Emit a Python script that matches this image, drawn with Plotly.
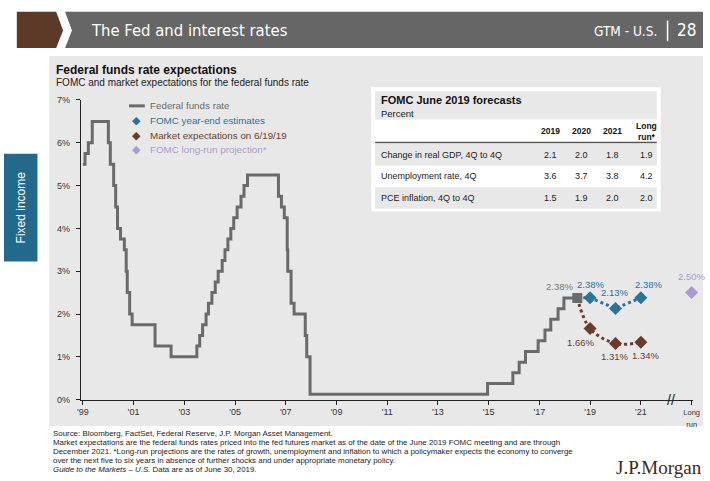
import plotly.graph_objects as go

W, H = 710, 481

# ---------------- data ----------------
ffr_dates = ["2000-01-01", "2000-02-02", "2000-03-21", "2000-05-16", "2001-01-03", "2001-01-31",
             "2001-03-20", "2001-04-18", "2001-05-15", "2001-06-27", "2001-08-21", "2001-09-17",
             "2001-10-02", "2001-11-06", "2001-12-11", "2002-11-06", "2003-06-25", "2004-06-30",
             "2004-08-10", "2004-09-21", "2004-11-10", "2004-12-14", "2005-02-02", "2005-03-22",
             "2005-05-03", "2005-06-30", "2005-08-09", "2005-09-20", "2005-11-01", "2005-12-13",
             "2006-01-31", "2006-03-28", "2006-05-10", "2006-06-29", "2007-09-18", "2007-10-31",
             "2007-12-11", "2008-01-22", "2008-01-30", "2008-03-18", "2008-04-30", "2008-10-08",
             "2008-10-29", "2008-12-16", "2015-12-16", "2016-12-14", "2017-03-15", "2017-06-14",
             "2017-12-13", "2018-03-21", "2018-06-13", "2018-09-26", "2018-12-19", "2019-06-30"]
ffr_rates = [5.5, 5.75, 6.0, 6.5, 6.0, 5.5,
             5.0, 4.5, 4.0, 3.75, 3.5, 3.0,
             2.5, 2.0, 1.75, 1.25, 1.0, 1.25,
             1.5, 1.75, 2.0, 2.25, 2.5, 2.75,
             3.0, 3.25, 3.5, 3.75, 4.0, 4.25,
             4.5, 4.75, 5.0, 5.25, 4.75, 4.5,
             4.25, 3.5, 3.0, 2.25, 2.0, 1.5,
             1.0, 0.125, 0.375, 0.625, 0.875, 1.125,
             1.375, 1.625, 1.875, 2.125, 2.375, 2.375]

last_date = "2019-06-30"
last_rate = 2.375
proj_dates = ["2019-12-31", "2020-12-31", "2021-12-31"]
fomc_est = [2.38, 2.13, 2.38]
market_exp = [1.66, 1.31, 1.34]
longrun_date = "2024-01-01"
longrun_rate = 2.50

tick_dates = ["2000-01-01", "2002-01-01", "2004-01-01", "2006-01-01", "2008-01-01", "2010-01-01",
              "2012-01-01", "2014-01-01", "2016-01-01", "2018-01-01", "2020-01-01", "2022-01-01",
              longrun_date]
tick_labels = ["'99", "'01", "'03", "'05", "'07", "'09", "'11", "'13", "'15", "'17", "'19", "'21",
               '<span style="font-size:7.5px">Long<br>run</span>']
y_ticks = [0, 1, 2, 3, 4, 5, 6, 7]
y_tick_labels = [f"{v}%" for v in y_ticks]

legend_names = ["Federal funds rate", "FOMC year-end estimates",
                "Market expectations on 6/19/19", "FOMC long-run projection*"]

table_cols = ["2019", "2020", "2021", "Long<br>run*"]
table_rows = ["Change in real GDP, 4Q to 4Q", "Unemployment rate, 4Q", "PCE inflation, 4Q to 4Q"]
table_vals = [[2.1, 2.0, 1.8, 1.9],
              [3.6, 3.7, 3.8, 4.2],
              [1.5, 1.9, 2.0, 2.0]]

footer_lines = [
    "Source: Bloomberg, FactSet, Federal Reserve, J.P. Morgan Asset Management.",
    "Market expectations are the federal funds rates priced into the fed futures market as of the date of the June 2019 FOMC meeting and are through",
    "December 2021. *Long-run projections are the rates of growth, unemployment and inflation to which a policymaker expects the economy to converge",
    "over the next five to six years in absence of further shocks and under appropriate monetary policy.",
    "<i>Guide to the Markets – U.S.</i> Data are as of June 30, 2019.",
]

# ---------------- style ----------------
FONT = "Liberation Sans, Arial, sans-serif"
NARROW = "Liberation Sans Narrow, DejaVu Sans Condensed, Roboto, sans-serif"
GRAY = "#6a6a6a"
BLUE = "#2a7399"
BROWN = "#6b3c2c"
LAV = "#a99cd2"
PANEL = "#e8e8e8"
legend_colors = [GRAY, BLUE, BROWN, LAV]

def px(x):
    return x / W

def py(y):
    return 1 - y / H

fig = go.Figure()

# projection lines
fig.add_trace(go.Scatter(x=[last_date] + proj_dates, y=[last_rate] + market_exp, mode="lines",
                         line=dict(color=BROWN, width=3, dash="dot", shape="spline", smoothing=1.0),
                         hoverinfo="skip"))
fig.add_trace(go.Scatter(x=[last_date] + proj_dates, y=[last_rate] + fomc_est, mode="lines",
                         line=dict(color=BLUE, width=3, dash="dot"), hoverinfo="skip"))
# fed funds rate
fig.add_trace(go.Scatter(x=ffr_dates, y=ffr_rates, mode="lines",
                         line=dict(color=GRAY, width=3, shape="hv"), name=legend_names[0]))
fig.add_trace(go.Scatter(x=[last_date], y=[last_rate], mode="markers",
                         marker=dict(symbol="square", size=10, color=GRAY)))
fig.add_trace(go.Scatter(x=proj_dates, y=fomc_est, mode="markers",
                         marker=dict(symbol="diamond", size=10, color=BLUE), name=legend_names[1]))
fig.add_trace(go.Scatter(x=proj_dates, y=market_exp, mode="markers",
                         marker=dict(symbol="diamond", size=10, color=BROWN), name=legend_names[2]))
fig.add_trace(go.Scatter(x=[longrun_date], y=[longrun_rate], mode="markers", cliponaxis=False,
                         marker=dict(symbol="diamond", size=10, color=LAV), name=legend_names[3]))

shapes = []
ann = []

# header
shapes.append(dict(type="path", xref="paper", yref="paper", layer="below", line=dict(width=0),
                   fillcolor="#5d3927",
                   path=f"M {px(13)} {py(7)} L {px(53)} {py(7)} L {px(60)} {py(26)} L {px(53)} {py(44)} L {px(13)} {py(44)} Z"))
shapes.append(dict(type="path", xref="paper", yref="paper", layer="below", line=dict(width=0),
                   fillcolor="#666666",
                   path=f"M {px(62)} {py(7)} L {px(710)} {py(7)} L {px(710)} {py(44)} L {px(62)} {py(44)} L {px(69)} {py(26)} Z"))
ann.append(dict(text="The Fed and interest rates", x=px(86), y=py(26), xanchor="left", yanchor="middle",
                font=dict(family=NARROW, size=16.5, color="white")))
ann.append(dict(text="GTM - U.S.", x=px(665), y=py(27), xanchor="right", yanchor="middle",
                font=dict(family=NARROW, size=13.5, color="white")))
shapes.append(dict(type="line", xref="paper", yref="paper", line=dict(color="white", width=1.5),
                   x0=px(674), x1=px(674), y0=py(16), y1=py(37)))
ann.append(dict(text="28", x=px(705), y=py(26), xanchor="right", yanchor="middle",
                font=dict(family=NARROW, size=17, color="white")))

# side tab
shapes.append(dict(type="rect", xref="paper", yref="paper", layer="below", line=dict(width=0),
                   fillcolor="#22698c", x0=px(0), x1=px(34), y0=py(152), y1=py(262)))
ann.append(dict(text="Fixed income", x=px(17), y=py(207), textangle=-90, xanchor="center", yanchor="middle",
                font=dict(family=FONT, size=12, color="white")))

# panel
shapes.append(dict(type="rect", xref="paper", yref="paper", layer="below", line=dict(width=0),
                   fillcolor=PANEL, x0=px(46), x1=px(710), y0=py(430), y1=py(52)))
ann.append(dict(text="<b>Federal funds rate expectations</b>", x=px(51), y=py(66), xanchor="left", yanchor="middle",
                font=dict(family=FONT, size=12, color="#111")))
ann.append(dict(text="FOMC and market expectations for the federal funds rate", x=px(51), y=py(79),
                xanchor="left", yanchor="middle", font=dict(family=FONT, size=10, color="#222")))

# manual legend
leg_y = [103, 118, 133, 148]
shapes.append(dict(type="line", xref="paper", yref="paper", line=dict(color=GRAY, width=3),
                   x0=px(127), x1=px(143), y0=py(leg_y[0]), y1=py(leg_y[0])))
for i, (nm, col) in enumerate(zip(legend_names, legend_colors)):
    if i > 0:
        ann.append(dict(text="◆", x=px(135), y=py(leg_y[i]), xanchor="center", yanchor="middle",
                        font=dict(family="DejaVu Sans", size=11, color=col)))
    ann.append(dict(text=nm, x=px(146), y=py(leg_y[i]), xanchor="left", yanchor="middle",
                    font=dict(family=FONT, size=9.8, color=col)))

# table
shapes.append(dict(type="rect", xref="paper", yref="paper", layer="below", line=dict(width=0),
                   fillcolor="white", x0=px(373), x1=px(667), y0=py(211), y1=py(84)))
shapes.append(dict(type="rect", xref="paper", yref="paper", layer="below", line=dict(width=0),
                   fillcolor=PANEL, x0=px(377), x1=px(663), y0=py(117), y1=py(88)))
row_tops = [142, 164, 186]
row_h = 22
for i, top in enumerate(row_tops):
    if i % 2 == 0:
        shapes.append(dict(type="rect", xref="paper", yref="paper", layer="below", line=dict(width=0),
                           fillcolor=PANEL, x0=px(377), x1=px(663), y0=py(top + row_h), y1=py(top)))
shapes.append(dict(type="line", xref="paper", yref="paper", layer="below",
                   line=dict(color="#555", width=1.5), x0=px(377), x1=px(663), y0=py(140.5), y1=py(140.5)))
ann.append(dict(text="<b>FOMC June 2019 forecasts</b>", x=px(381), y=py(97), xanchor="left", yanchor="middle",
                font=dict(family=FONT, size=11, color="#111")))
ann.append(dict(text="Percent", x=px(381), y=py(111), xanchor="left", yanchor="middle",
                font=dict(family=FONT, size=9.5, color="#222")))
col_x = [555, 587, 618, 653]
for cx, c in zip(col_x, table_cols):
    ann.append(dict(text=f"<b>{c}</b>", x=px(cx), y=py(129), xanchor="center", yanchor="middle",
                    font=dict(family=FONT, size=8.5, color="#111")))
for i, (lab, vals) in enumerate(zip(table_rows, table_vals)):
    cy = row_tops[i] + row_h / 2
    ann.append(dict(text=lab, x=px(381), y=py(cy), xanchor="left", yanchor="middle",
                    font=dict(family=FONT, size=9, color="#222")))
    for cx, v in zip(col_x, vals):
        ann.append(dict(text=f"{v:.1f}", x=px(cx), y=py(cy), xanchor="center", yanchor="middle",
                        font=dict(family=FONT, size=9, color="#222")))

# data labels
def add_label(xd, yv, color, dx, dy):
    ann.append(dict(text=f"{yv:.2f}%", x=xd, y=yv, xref="x", yref="y", xanchor="center", yanchor="middle",
                    xshift=dx, yshift=dy, font=dict(family=FONT, size=9.5, color=color)))

add_label(last_date, last_rate, "#777777", -18, 11)
for xd, yv, dx, dy in zip(proj_dates, fomc_est, [0, -1, 8], [13, 16, 13]):
    add_label(xd, yv, BLUE, dx, dy)
for xd, yv, dx, dy in zip(proj_dates, market_exp, [-10, -1, 5], [-14, -13, -13]):
    add_label(xd, yv, BROWN, dx, dy)
add_label(longrun_date, longrun_rate, LAV, 0, 16)

# axis break
ann.append(dict(text="//", x="2023-03-15", y=0, xref="x", yref="y", xanchor="center", yanchor="middle",
                font=dict(family=FONT, size=14, color="#222")))

# footer
for i, line in enumerate(footer_lines):
    ann.append(dict(text=line, x=px(48), y=py(438 + 9 * i), xanchor="left", yanchor="middle",
                    font=dict(family=FONT, size=7.9, color="#222")))
ann.append(dict(text="J.P.Morgan", x=px(620), y=py(460), xanchor="left", yanchor="top",
                font=dict(family="Liberation Serif, DejaVu Serif, serif", size=19, color="#3a2a20")))

for a in ann:
    a.setdefault("xref", "paper")
    a.setdefault("yref", "paper")
    a["showarrow"] = False

fig.update_layout(
    width=W, height=H,
    margin=dict(l=0, r=0, t=0, b=0),
    paper_bgcolor="white", plot_bgcolor="rgba(0,0,0,0)",
    font=dict(family=FONT, size=9, color="#333"),
    shapes=shapes, annotations=ann,
    showlegend=False,
    xaxis=dict(type="date", domain=[px(78), px(700)], range=["1999-12-03", "2024-01-23"],
               tickvals=tick_dates, ticktext=tick_labels, ticks="outside", ticklen=4, tickcolor="#222",
               showline=True, linecolor="#222", linewidth=1, showgrid=False, zeroline=False,
               tickfont=dict(size=9, color="#333")),
    yaxis=dict(domain=[py(403), py(97)], range=[0, 7], tickvals=y_ticks, ticktext=y_tick_labels,
               ticks="outside", ticklen=4, tickcolor="#222", showline=True, linecolor="#222", linewidth=1,
               ticklabelstandoff=4,
               showgrid=False, zeroline=False, tickfont=dict(size=9, color="#333")),
    hovermode=False,
)

fig.write_html("out.html")
